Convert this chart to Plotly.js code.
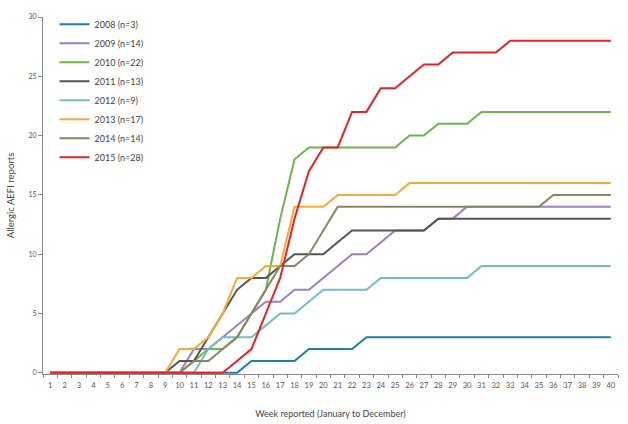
<!DOCTYPE html>
<html>
<head>
<meta charset="utf-8">
<script src="https://cdn.plot.ly/plotly-3.0.1.min.js"></script>
<style>
  html, body { margin: 0; padding: 0; background: #fff; }
  #chart { width: 628px; height: 424px; }
</style>
</head>
<body>
<div id="chart"></div>
<script>
// Weeks reported
const weeks = Array.from({length: 40}, (_, i) => String(i + 1));

// Cumulative allergic AEFI reports per year
const y2008 = [0,0,0,0,0,0,0,0,0,0, 0,0,0,0,1,1,1,1,2,2, 2,2,3,3,3,3,3,3,3,3, 3,3,3,3,3,3,3,3,3,3];
const y2009 = [0,0,0,0,0,0,0,0,0,0, 2,2,3,4,5,6,6,7,7,8, 9,10,10,11,12,12,12,13,13,14, 14,14,14,14,14,14,14,14,14,14];
const y2010 = [0,0,0,0,0,0,0,0,0,0, 1,2,2,3,5,7,13,18,19,19, 19,19,19,19,19,20,20,21,21,21, 22,22,22,22,22,22,22,22,22,22];
const y2011 = [0,0,0,0,0,0,0,0,0,1, 1,3,5,7,8,8,9,10,10,10, 11,12,12,12,12,12,12,13,13,13, 13,13,13,13,13,13,13,13,13,13];
const y2012 = [0,0,0,0,0,0,0,0,0,0, 0,2,3,3,3,4,5,5,6,7, 7,7,7,8,8,8,8,8,8,8, 9,9,9,9,9,9,9,9,9,9];
const y2013 = [0,0,0,0,0,0,0,0,0,2, 2,3,5,8,8,9,9,14,14,14, 15,15,15,15,15,16,16,16,16,16, 16,16,16,16,16,16,16,16,16,16];
const y2014 = [0,0,0,0,0,0,0,0,0,0, 1,1,2,3,5,7,9,9,10,12, 14,14,14,14,14,14,14,14,14,14, 14,14,14,14,14,15,15,15,15,15];
const y2015 = [0,0,0,0,0,0,0,0,0,0, 0,0,0,1,2,5,8,13,17,19, 19,22,22,24,24,25,26,26,27,27, 27,27,28,28,28,28,28,28,28,28];

const seriesNames = ["2008 (n=3)", "2009 (n=14)", "2010 (n=22)", "2011 (n=13)", "2012 (n=9)", "2013 (n=17)", "2014 (n=14)", "2015 (n=28)"];
const seriesValues = [y2008, y2009, y2010, y2011, y2012, y2013, y2014, y2015];
const seriesColors = ["#1f7fa6", "#9e7fc2", "#6ab64c", "#555555", "#73bfbf", "#f7a935", "#8a8563", "#e3232a"];

const yTicks = [0, 5, 10, 15, 20, 25, 30];

const traces = seriesValues.map((vals, i) => ({
  x: weeks,
  y: vals,
  type: "scatter",
  mode: "lines",
  name: seriesNames[i],
  line: { color: seriesColors[i], width: 2 },
  hoverinfo: "x+y+name"
}));

const layout = {
  width: 628,
  height: 424,
  margin: { l: 43, r: 10, t: 10, b: 50 },
  paper_bgcolor: "#ffffff",
  plot_bgcolor: "#ffffff",
  font: { family: "Lato, 'Open Sans', sans-serif", size: 8, color: "#555555" },
  showlegend: true,
  legend: {
    x: 0.02, y: 1.02, xanchor: "left", yanchor: "top",
    bgcolor: "rgba(0,0,0,0)",
    font: { size: 9, color: "#444444" },
    tracegroupgap: 0
  },
  xaxis: {
    type: "category",
    range: [-0.5, 39.5],
    tickson: "boundaries",
    ticks: "outside",
    ticklen: 3,
    tickcolor: "#888888",
    showline: true,
    linecolor: "#888888",
    linewidth: 1,
    showgrid: false,
    zeroline: false,
    tickfont: { size: 7.5, color: "#555555" },
    tickangle: 0,
    ticklabelstandoff: 4,
    title: { text: "Week reported (January to December)", font: { size: 9, color: "#444444" }, standoff: 21 },
    fixedrange: true
  },
  yaxis: {
    range: [-0.1, 30],
    tickvals: yTicks,
    ticktext: yTicks.map(String),
    ticks: "outside",
    ticklen: 4,
    tickcolor: "#888888",
    showline: true,
    linecolor: "#888888",
    linewidth: 1,
    showgrid: false,
    zeroline: false,
    tickfont: { size: 7, color: "#555555" },
    title: { text: "Allergic AEFI reports", font: { size: 9.5, color: "#444444" }, standoff: 12 },
    fixedrange: true
  }
};

Plotly.newPlot("chart", traces, layout, { displayModeBar: false, staticPlot: true });
</script>
</body>
</html>
